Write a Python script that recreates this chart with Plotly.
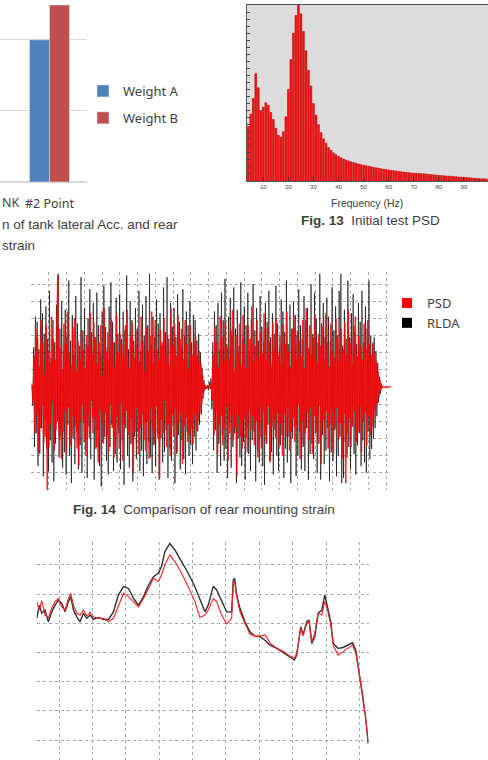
import numpy as np
import plotly.graph_objects as go

W, H = 488, 760

# ---------------- Fig. 12 (partially visible bar chart) ----------------
bar_categories = ["#2 Point"]
weight_a = [2.0]
weight_b = [2.49]

# ---------------- Fig. 13 Initial test PSD ----------------
psd_freq = list(range(4, 100))
psd_level = [
    0.31, 0.38, 0.47, 0.61, 0.53, 0.40, 0.42, 0.445, 0.43, 0.39,
    0.35, 0.30, 0.26, 0.25, 0.28, 0.365, 0.52, 0.69, 0.84, 0.94,
    1.00, 0.95, 0.85, 0.74, 0.63, 0.54, 0.44, 0.375, 0.32, 0.275,
    0.24, 0.215, 0.19, 0.175, 0.16, 0.15, 0.14, 0.132, 0.125, 0.119,
    0.114, 0.109, 0.105, 0.101, 0.097, 0.093, 0.090, 0.087, 0.084, 0.081,
    0.078, 0.075, 0.073, 0.070, 0.067, 0.065, 0.063, 0.061, 0.059, 0.057,
    0.055, 0.053, 0.051, 0.050, 0.048, 0.046, 0.045, 0.044, 0.043, 0.042,
    0.041, 0.040, 0.038, 0.037, 0.035, 0.034, 0.032, 0.031, 0.030, 0.029,
    0.028, 0.027, 0.026, 0.025, 0.023, 0.022, 0.021, 0.020, 0.019, 0.018,
    0.016, 0.015, 0.014, 0.013, 0.013, 0.012,
]
psd_ticks = [10, 20, 30, 40, 50, 60, 70, 80, 90]

# ---------------- Fig. 14 Comparison of rear mounting strain ----------------
strain_dt = 0.04945
rlda_t0 = 0.05
psd_t0 = 0.075
rlda_strain = [
    0.2, -1.1, 2.3, -3.5, 4.1, -2.7, 3.8, -4.6, 2.2, -3.9, 5.1, -2.4, 4.3, -5.2, 3.1, -1.9, 4.7, -3.6, 2.8, -4.9,
    5.6, -3.1, 1.7, -4.4, 3.9, -5.5, 2.6, -3.3, 4.8, -2.0, 6.6, -4.1, 3.4, -2.8, 5.0, -4.7, 2.1, -3.8, 4.5, -5.1,
    3.0, -2.2, 6.2, -4.0, 2.7, -5.6, 4.2, -3.0, 1.9, -4.5, 5.3, -2.6, 3.7, -4.8, 2.4, -3.4, 6.4, -5.0, 3.3, -2.1,
    4.6, -3.7, 2.5, -5.3, 4.0, -2.3, 5.7, -4.2, 3.2, -1.8, 4.9, -5.4, 2.9, -3.6, 5.5, -2.5, 3.6, -4.6, 2.0, -5.8,
    4.4, -3.2, 5.9, -2.9, 3.5, -4.3, 2.3, -5.1, 4.7, -3.5, 6.1, -2.2, 3.8, -4.9, 2.6, -3.9, 5.2, -4.4, 3.1, -2.7,
    5.4, -4.8, 2.8, -3.1, 4.4, -5.7, 3.3, -2.4, 6.5, -4.0, 2.2, -4.7, 5.0, -3.3, 3.9, -5.5, 2.7, -2.9, 4.6, -4.2,
    3.4, -2.6, 5.6, -4.9, 2.1, -3.7, 4.8, -5.2, 3.0, -2.0, 5.3, -4.5, 3.6, -3.2, 6.6, -4.1, 2.5, -5.0, 4.1, -3.4,
    2.9, -4.6, 5.1, -2.7, 3.7, -5.4, 4.3, -3.0, 2.4, -4.4, 5.8, -3.8, 3.2, -2.5, 6.4, -5.3, 2.8, -3.6, 4.9, -4.3,
    3.5, -2.3, 4.6, -5.6, 2.9, -3.9, 5.4, -2.8, 3.8, -4.8, 2.3, -3.1, 5.7, -4.2, 3.0, -5.1, 4.4, -2.6, 3.6, -4.0,
    5.0, -3.4, 2.6, -4.5, 4.2, -2.9, 3.9, -3.7, 2.7, -2.6, 3.1, -2.2, 2.0, -1.6, 1.1, -0.7, 0.4, -0.2, 0.1, -0.1,
    0.1, -0.2, 0.3, -0.1, 0.5, -1.3, 2.6, -3.7, 4.4, -2.5, 3.6, -5.0, 4.9, -3.3, 2.2, -4.6, 5.5, -2.8, 3.9, -4.3,
    6.3, -3.6, 2.5, -5.3, 4.1, -2.1, 5.2, -4.7, 3.0, -3.5, 5.8, -2.7, 3.4, -5.6, 4.5, -3.0, 2.4, -4.1, 6.1, -4.6,
    2.8, -3.2, 4.7, -5.4, 3.6, -2.4, 5.5, -3.9, 2.1, -4.9, 4.0, -3.1, 6.0, -2.6, 3.3, -5.5, 4.6, -3.7, 2.7, -4.4,
    5.3, -2.9, 3.5, -4.6, 2.6, -5.7, 4.9, -3.3, 3.8, -2.2, 5.6, -4.3, 2.9, -3.8, 4.3, -5.1, 3.1, -2.5, 5.9, -4.0,
    3.7, -4.9, 2.3, -3.4, 5.1, -2.8, 4.4, -5.3, 3.2, -3.6, 6.2, -4.4, 2.5, -2.9, 4.8, -5.6, 3.4, -3.0, 5.0, -2.3,
    4.2, -5.2, 3.0, -4.0, 5.7, -2.6, 3.6, -4.8, 2.8, -3.5, 5.3, -4.9, 3.9, -2.4, 4.6, -5.4, 2.2, -3.9, 6.0, -3.3,
    3.1, -4.2, 5.5, -2.7, 4.0, -5.0, 2.6, -3.3, 6.6, -5.4, 3.7, -2.8, 4.9, -4.5, 2.9, -3.7, 5.2, -2.4, 4.1, -5.5,
    2.7, -3.8, 5.8, -4.3, 3.3, -2.5, 4.7, -5.2, 3.0, -4.0, 5.6, -2.9, 6.6, -5.6, 2.4, -5.3, 4.5, -3.2, 2.8, -4.1,
    6.2, -3.5, 2.9, -4.8, 4.3, -2.3, 5.4, -3.9, 3.2, -5.1, 2.5, -3.4, 4.9, -2.7, 3.8, -4.6, 5.6, -3.1, 2.6, -4.4,
    4.7, -5.0, 3.4, -2.6, 6.2, -4.2, 3.0, -3.6, 2.5, -3.0, 2.9, -2.4, 2.1, -1.7, 1.4, -0.9, 0.6, -0.4, 0.2, -0.1,
]
psd_strain = [
    0.1, -0.9, 1.8, -2.7, 3.4, -1.5, 2.9, -3.8, 1.2, -2.4, 3.9, -1.1, 2.6, -3.3, 0.8, -2.9, 3.6, -6.0, 2.1, -3.5,
    1.4, -2.2, 4.1, -0.9, 2.8, -3.7, 1.6, -2.5, 3.2, 6.5, -1.8, -3.1, 2.3, -4.2, 1.0, -2.6, 3.7, -1.4, 2.5, -3.9,
    4.4, -1.2, 2.0, -3.4, 1.3, -2.8, 3.5, -1.7, 4.0, -2.3, 0.9, -3.6, 2.7, -4.6, 1.5, -2.0, 3.3, -1.0, 2.2, -3.2,
    1.1, -4.0, 3.0, -1.6, 2.4, -3.0, 4.3, -0.8, 1.9, -2.7, 3.8, -1.9, 2.9, -3.5, 1.4, -4.4, 2.6, -1.3, 3.6, -2.1,
    0.7, -3.3, 4.6, -1.5, 2.1, -2.9, 3.2, -3.8, 1.6, -1.0, 3.9, -2.4, 2.6, -4.1, 1.2, -3.0, 4.2, -1.7, 2.0, -3.6,
    3.1, -0.9, 2.5, -4.3, 1.8, -2.2, 3.6, -1.4, 4.5, -2.8, 1.1, -3.4, 2.9, -1.8, 3.7, -5.0, 1.7, -2.6, 3.3, -1.2,
    2.3, -3.9, 1.5, -2.4, 4.1, -1.6, 2.7, -3.1, 0.9, -3.7, 3.5, -2.0, 2.1, -4.2, 3.0, -1.3, 4.4, -2.5, 1.4, -3.3,
    3.9, -1.1, 2.2, -3.0, 1.7, -5.3, 3.3, -1.9, 2.6, -2.7, 4.0, -0.8, 1.9, -3.5, 3.1, -2.2, 1.3, -4.0, 4.6, -1.6,
    2.4, -2.9, 3.7, -1.2, 1.8, -3.8, 4.2, -2.1, 2.8, -1.5, 3.4, -4.5, 1.6, -2.3, 3.9, -1.8, 2.5, -3.2, 1.0, -2.8,
    3.6, -2.4, 1.9, -3.3, 2.7, -1.6, 3.0, -2.5, 1.8, -2.0, 2.1, -1.5, 1.4, -1.0, 0.7, -0.4, 0.2, -0.1, 0.0, 0.0,
    0.0, 0.0, 0.1, -0.1, 0.2, -0.8, 1.9, -2.8, 3.5, -1.4, 2.6, -3.9, 1.2, -2.2, 4.1, -1.7, 2.9, -3.4, 1.5, -2.5,
    3.8, -1.0, 2.3, -4.3, 1.7, -2.7, 3.3, -1.5, 4.5, -3.1, 0.9, -2.4, 3.0, -5.2, 2.0, -1.6, 3.7, -2.9, 1.3, -3.6,
    4.2, -1.9, 2.5, -3.0, 1.1, -3.8, 3.6, -1.3, 2.8, -2.5, 4.7, -1.7, 1.5, -3.4, 2.4, -2.0, 3.9, -4.1, 1.8, -1.2,
    3.2, -3.6, 2.0, -1.4, 4.3, -2.8, 1.6, -3.3, 3.5, -1.1, 2.6, -4.4, 1.3, -2.3, 3.8, -1.9, 2.2, -3.0, 4.0, -1.5,
    1.9, -3.5, 3.0, -2.1, 1.4, -4.0, 3.7, -1.6, 2.5, -2.9, 4.4, -1.3, 2.1, -3.7, 1.2, -2.6, 3.4, -1.8, 4.1, -3.2,
    1.6, -2.4, 3.3, -1.0, 2.7, -4.2, 1.8, -2.0, 3.9, -3.4, 1.1, -2.7, 4.6, -1.5, 2.3, -3.1, 3.6, -1.2, 1.9, -3.9,
    2.9, -1.7, 4.2, -2.6, 1.4, -3.3, 3.1, -1.1, 2.4, -4.5, 3.5, -1.9, 1.6, -2.8, 4.3, -1.4, 2.6, -3.6, 1.2, -2.2,
    3.7, -1.5, 2.1, -3.9, 1.7, -2.4, 4.0, -1.2, 2.8, -3.0, 1.5, -2.1, 3.4, -4.2, 2.2, -1.6, 3.8, -5.6, 1.9, -2.7,
    4.5, -1.8, 2.6, -3.5, 1.3, -2.3, 3.6, -1.4, 4.1, -3.2, 1.8, -2.6, 3.0, -1.1, 2.4, -3.8, 1.6, -2.0, 3.7, -1.5,
    2.2, -3.4, 3.9, -1.7, 2.5, -2.8, 1.9, -2.3, 2.6, -1.8, 2.0, -1.4, 1.5, -1.0, 0.9, -0.6, 0.4, -0.2, 0.1, 0.0,
    0.0, 0.0, 0.0, 0.0, 0.0, 0.0, 0.0, 0.0, 0.0, 0.0,
]
strain_legend = ["PSD", "RLDA"]

# ---------------- bottom comparison chart ----------------
cmp_x = [
    0.33, 0.41, 0.48, 0.58, 0.68, 0.78, 0.88, 0.98, 1.08, 1.18,
    1.28, 1.35, 1.43, 1.53, 1.63, 1.73, 1.83, 1.93, 2.03, 2.18,
    2.33, 2.48, 2.63, 2.78, 2.93, 3.08, 3.23, 3.38, 3.53, 3.68,
    3.83, 3.97, 4.07, 4.17, 4.32, 4.47, 4.67, 4.87, 5.07, 5.22,
    5.37, 5.47, 5.62, 5.72, 5.87, 6.02, 6.17, 6.22, 6.26, 6.32,
    6.42, 6.57, 6.72, 6.87, 7.02, 7.17, 7.32, 7.52, 7.72, 7.92,
    8.05, 8.12, 8.24, 8.31, 8.42, 8.49, 8.57, 8.66, 8.76, 8.87,
    8.96, 9.03, 9.14, 9.21, 9.36, 9.51, 9.66, 9.79, 9.89, 9.99,
    10.09, 10.18, 10.26,
]
cmp_rlda = [
    4.17, 4.62, 4.34, 4.45, 4.05, 4.39, 4.62, 4.79, 4.68, 4.39,
    4.74, 4.91, 4.45, 4.22, 4.05, 4.34, 4.17, 4.28, 4.13, 4.20,
    4.13, 4.13, 4.39, 4.97, 5.25, 5.19, 4.85, 4.62, 4.91, 5.31,
    5.59, 5.71, 5.94, 6.45, 6.73, 6.51, 6.11, 5.71, 5.25, 4.80,
    4.39, 4.62, 5.27, 5.14, 4.74, 4.39, 4.39, 5.48, 5.54, 4.97,
    4.51, 4.05, 3.71, 3.56, 3.54, 3.42, 3.25, 3.14, 2.99, 2.83,
    2.74, 2.91, 3.88, 3.60, 4.05, 4.11, 3.31, 3.54, 4.34, 4.45,
    4.97, 4.62, 4.05, 3.31, 3.14, 3.17, 3.25, 3.33, 3.08, 2.28,
    1.60, 0.80, -0.11,
]
cmp_psd = [
    4.74, 4.45, 4.77, 4.28, 4.20, 4.51, 4.74, 4.85, 4.56, 4.45,
    4.85, 5.02, 4.62, 4.34, 4.28, 4.45, 4.25, 4.37, 4.21, 4.17,
    4.17, 4.05, 4.17, 4.62, 5.02, 4.91, 4.74, 4.56, 4.85, 5.19,
    5.54, 5.42, 5.65, 6.00, 6.34, 6.11, 5.71, 5.25, 4.74, 4.20,
    4.28, 4.45, 4.85, 4.74, 4.28, 3.97, 4.17, 5.37, 5.42, 4.91,
    4.39, 3.99, 3.62, 3.56, 3.56, 3.60, 3.33, 3.14, 3.03, 2.88,
    2.80, 2.97, 3.83, 3.56, 4.00, 4.05, 3.37, 3.65, 4.34, 4.28,
    4.74, 4.51, 3.94, 3.25, 2.91, 3.03, 3.14, 3.25, 2.97, 2.28,
    1.60, 0.80, -0.08,
]


def fx(px):
    return px / W


def fy(py):
    return 1 - py / H


rlda_t = rlda_t0 + strain_dt * np.arange(len(rlda_strain))
psd_t = psd_t0 + strain_dt * np.arange(len(psd_strain))

fig = go.Figure()

# Fig. 12 bars
fig.add_trace(go.Bar(x=bar_categories, y=weight_a, name="Weight A", marker_color="#4f81bd",
                     width=0.2667, offset=-0.2667, xaxis="x", yaxis="y", legend="legend",
                     legendgroup="a"))
fig.add_trace(go.Bar(x=bar_categories, y=weight_b, name="Weight B", marker_color="#c0504d",
                     width=0.2667, offset=0.0, xaxis="x", yaxis="y", legend="legend",
                     legendgroup="b"))

# Fig. 13 PSD: pink under-layer + red bars
fig.add_trace(go.Bar(x=psd_freq, y=psd_level, width=1.0,
                     marker=dict(color="#ff8a8a", line=dict(width=0)),
                     xaxis="x2", yaxis="y2", showlegend=False, hoverinfo="skip"))
fig.add_trace(go.Bar(x=psd_freq, y=psd_level, width=0.72,
                     marker=dict(color="#f21414", line=dict(color="#b00000", width=0.4)),
                     xaxis="x2", yaxis="y2", showlegend=False))

# Fig. 14 strain time history
fig.add_trace(go.Scatter(x=rlda_t, y=rlda_strain, mode="lines",
                         line=dict(color="rgba(0,0,0,0.62)", width=1.0),
                         xaxis="x3", yaxis="y3", showlegend=False))
fig.add_trace(go.Scatter(x=psd_t, y=psd_strain, mode="lines",
                         line=dict(color="rgba(255,0,0,0.85)", width=1.5),
                         xaxis="x3", yaxis="y3", showlegend=False))
for nm, col, grp in zip(strain_legend, ["#ff0000", "#000000"], ["p", "r"]):
    fig.add_trace(go.Scatter(x=[None], y=[None], mode="markers", name=nm,
                             marker=dict(symbol="square", size=10, color=col),
                             xaxis="x3", yaxis="y3", legend="legend2", legendgroup=grp))

# bottom comparison
fig.add_trace(go.Scatter(x=cmp_x, y=cmp_rlda, mode="lines", line=dict(color="#303030", width=1.4),
                         xaxis="x4", yaxis="y4", showlegend=False))
fig.add_trace(go.Scatter(x=cmp_x, y=cmp_psd, mode="lines", line=dict(color="#ff2020", width=1.1),
                         xaxis="x4", yaxis="y4", showlegend=False))

dotgrid = dict(showgrid=True, gridcolor="#a8a8a8", griddash="dot", gridwidth=1,
               zeroline=False, showticklabels=False, ticks="", showline=False)

fig.update_layout(
    width=W, height=H, margin=dict(l=0, r=0, t=0, b=0),
    paper_bgcolor="white", plot_bgcolor="rgba(0,0,0,0)",
    font=dict(family="Noto Sans", color="#404040"),
    barmode="overlay",
    xaxis=dict(domain=[0, fx(87)], range=[-0.66, 0.5], type="category", anchor="y",
               showgrid=False, zeroline=False, showline=False, ticks="",
               ticklabelstandoff=12,
               tickfont=dict(family="Noto Sans", size=12.5, color="#404040")),
    yaxis=dict(domain=[fy(182), 1], range=[0, 2.56], anchor="x", dtick=1,
               showgrid=True, gridcolor="#d9d9d9", zeroline=True, zerolinecolor="#d9d9d9",
               showticklabels=False, ticks=""),
    xaxis2=dict(domain=[fx(247), 1], range=[3.5, 99.6], anchor="y2", tickvals=psd_ticks,
                ticks="inside", ticklen=4, tickcolor="#333", showgrid=False, zeroline=False,
                showline=True, mirror=True, linecolor="#555", linewidth=1,
                tickfont=dict(family="Liberation Sans", size=6, color="#444")),
    yaxis2=dict(domain=[fy(181), fy(5)], range=[0, 1.0], anchor="x2", dtick=0.04,
                ticks="inside", ticklen=3, tickcolor="#444", showticklabels=False,
                showgrid=False, zeroline=False, showline=True, mirror=True,
                linecolor="#555", linewidth=1),
    xaxis3=dict(domain=[fx(31), fx(391)], range=[0, 20.28], anchor="y3", dtick=1, tick0=0,
                **dotgrid),
    yaxis3=dict(domain=[fy(490), fy(272)], range=[-6.0, 6.7], anchor="x3", dtick=1, tick0=0,
                **dotgrid),
    xaxis4=dict(domain=[fx(36.7), fx(368.5)], range=[0.33, 10.27], anchor="y4", dtick=1, tick0=0,
                **dotgrid),
    yaxis4=dict(domain=[0, fy(541.7)], range=[-0.68, 6.79], anchor="x4", dtick=1, tick0=0,
                **dotgrid),
    legend=dict(x=fx(83), y=fy(76), xanchor="left", yanchor="top", tracegroupgap=7,
                bgcolor="rgba(0,0,0,0)", font=dict(family="Noto Sans", size=13, color="#404040")),
    legend2=dict(x=fx(387), y=fy(288), xanchor="left", yanchor="top", tracegroupgap=0,
                 bgcolor="rgba(0,0,0,0)", font=dict(family="Noto Sans", size=13, color="#404040")),
    shapes=[dict(type="rect", xref="x2 domain", yref="y2 domain", x0=0, x1=1, y0=0, y1=1,
                 fillcolor="#dcdcdc", line=dict(width=0), layer="below")],
)

cap = dict(family="Liberation Sans", size=13.5, color="#404040")
fig.add_annotation(text="NK", xref="paper", yref="paper", x=fx(0), y=fy(202), xanchor="left",
                   yanchor="middle", showarrow=False,
                   font=dict(family="Noto Sans", size=12.5, color="#404040"))
fig.add_annotation(text="n of tank lateral Acc. and rear", xref="paper", yref="paper", x=fx(0),
                   y=fy(224), xanchor="left", yanchor="middle", showarrow=False, font=cap)
fig.add_annotation(text="strain", xref="paper", yref="paper", x=fx(0), y=fy(245),
                   xanchor="left", yanchor="middle", showarrow=False, font=cap)
fig.add_annotation(text="Frequency (Hz)", xref="paper", yref="paper", x=fx(367), y=fy(203),
                   xanchor="center", yanchor="middle", showarrow=False,
                   font=dict(family="Liberation Sans", size=10.5, color="#404040"))
fig.add_annotation(text="<b>Fig. 13</b>&nbsp;&nbsp;Initial test PSD", xref="paper", yref="paper",
                   x=fx(370), y=fy(221), xanchor="center", yanchor="middle", showarrow=False,
                   font=cap)
fig.add_annotation(text="<b>Fig. 14</b>&nbsp;&nbsp;Comparison of rear mounting strain",
                   xref="paper", yref="paper", x=fx(204), y=fy(509), xanchor="center",
                   yanchor="middle", showarrow=False, font=cap)

fig.write_html("out.html")
